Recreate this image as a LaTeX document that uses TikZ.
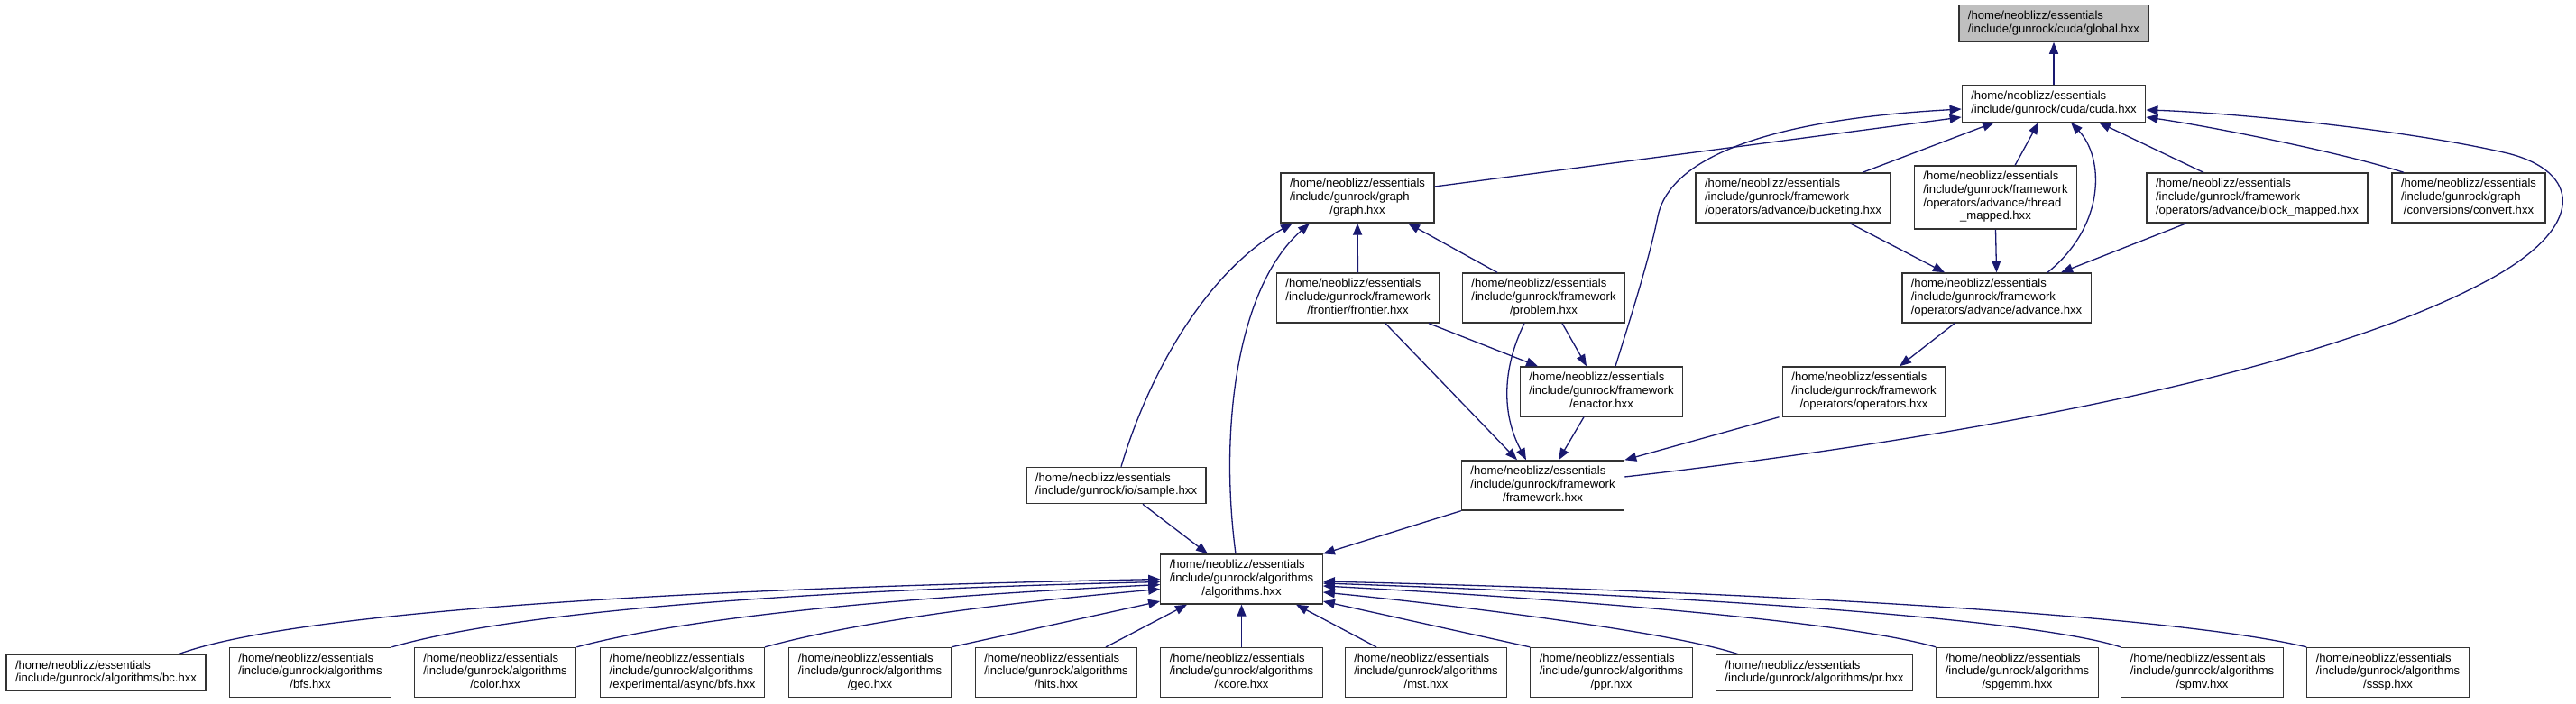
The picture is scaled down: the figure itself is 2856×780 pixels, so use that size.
\documentclass[tikz,border=0pt]{standalone}
\usepackage{fontspec}
\setmainfont{Liberation Sans}
\usetikzlibrary{arrows.meta}
\definecolor{midnight}{HTML}{191970}
\definecolor{curfile}{HTML}{BFBFBF}
\newcommand{\fpath}[2]{%
  % #1=left aligned lines, #2=last line (centred)
  \begin{tabular}{@{}l@{}}#1\\\multicolumn{1}{@{}c@{}}{#2}\end{tabular}%
}
\newcommand{\ess}{/home/neoblizz/essentials}

\begin{document}
\begin{tikzpicture}[x=1pt, y=-1pt,
  file/.style={draw=black!80, fill=white, line width=1.3pt, inner xsep=10pt,
    inner ysep=5.5pt, font=\fontsize{13.1}{14.7}\selectfont},
  inc/.style={-{Triangle[length=13pt, width=10pt]}, draw=midnight, line width=1.3pt},
]
\useasboundingbox (0,0) rectangle (2856,780);

% Top: the file itself
\node[file, fill=curfile] (global) at (2277,26) {\fpath{\ess}{/include/gunrock/cuda/global.hxx}};
\node[file] (cuda) at (2277,115) {\fpath{\ess}{/include/gunrock/cuda/cuda.hxx}};

% Row below cuda.hxx
\node[file] (graph) at (1505,219.5) {\fpath{\ess\\/include/gunrock/graph}{/graph.hxx}};
\node[file] (bucketing) at (1988,219.5) {\fpath{\ess\\/include/gunrock/framework}{/operators/advance/bucketing.hxx}};
\node[file] (thread) at (2212.5,219) {\fpath{\ess\\/include/gunrock/framework\\/operators/advance/thread}{\_mapped.hxx}};
\node[file] (block) at (2502.5,219.5) {\fpath{\ess\\/include/gunrock/framework}{/operators/advance/block\_mapped.hxx}};
\node[file] (convert) at (2737,219.5) {\fpath{\ess\\/include/gunrock/graph}{/conversions/convert.hxx}};

% Framework layer
\node[file] (frontier) at (1505.5,330.5) {\fpath{\ess\\/include/gunrock/framework}{/frontier/frontier.hxx}};
\node[file] (problem) at (1711.5,330.5) {\fpath{\ess\\/include/gunrock/framework}{/problem.hxx}};
\node[file] (advance) at (2213.5,330.5) {\fpath{\ess\\/include/gunrock/framework}{/operators/advance/advance.hxx}};
\node[file] (enactor) at (1775.5,434.5) {\fpath{\ess\\/include/gunrock/framework}{/enactor.hxx}};
\node[file] (operators) at (2066.5,434.5) {\fpath{\ess\\/include/gunrock/framework}{/operators/operators.hxx}};
\node[file] (sample) at (1237.5,538.5) {\fpath{\ess}{/include/gunrock/io/sample.hxx}};
\node[file] (framework) at (1710.5,538.5) {\fpath{\ess\\/include/gunrock/framework}{/framework.hxx}};
\node[file] (algorithms) at (1376.5,642.5) {\fpath{\ess\\/include/gunrock/algorithms}{/algorithms.hxx}};

% Bottom row: algorithms
\node[file] (bc) at (117.5,746.5) {\fpath{\ess}{/include/gunrock/algorithms/bc.hxx}};
\node[file] (pr) at (2011.5,746.5) {\fpath{\ess}{/include/gunrock/algorithms/pr.hxx}};
\foreach \n/\x/\f in {bfs/344/bfs.hxx, color/549/color.hxx, async/756.5/{experimental/async/bfs.hxx},
    geo/964.5/geo.hxx, hits/1171/hits.hxx, kcore/1376.5/kcore.hxx, mst/1581/mst.hxx,
    ppr/1786.5/ppr.hxx, spgemm/2236.5/spgemm.hxx, spmv/2441.5/spmv.hxx, sssp/2647.5/sssp.hxx}
  \node[file] (\n) at (\x,746) {\fpath{\ess\\/include/gunrock/algorithms}{/\f}};

% Edges into cuda.hxx
\draw[inc] (cuda.north) -- (global.south);
\draw[inc] ([yshift=12.5pt]graph.east) -- ([yshift=-15pt]cuda.west);
\draw[inc] ([xshift=15.5pt]enactor.north) .. controls (1815,330) and (1830,280) .. (1838,240)
  .. controls (1848,190) and (1920,135) .. ([yshift=-6pt]cuda.west);
\draw[inc] ([xshift=77pt]bucketing.north) -- ([xshift=-66pt]cuda.south);
\draw[inc] ([xshift=21.5pt]thread.north) -- ([xshift=-17pt]cuda.south);
\draw[inc] ([xshift=56.5pt]advance.north) .. controls (2335,250) and (2333,175) .. ([xshift=19pt]cuda.south);
\draw[inc] ([xshift=-59.5pt]block.north) -- ([xshift=50pt]cuda.south);
\draw[inc] ([xshift=-72pt]convert.north) .. controls (2600,170) and (2450,140) .. ([yshift=-15pt]cuda.east);
\draw[inc] ([yshift=9.5pt]framework.east) .. controls (2100,495) and (2550,425) .. (2760,310)
  .. controls (2870,250) and (2860,190) .. (2780,170)
  .. controls (2650,140) and (2450,124) .. ([yshift=-7pt]cuda.east);

% Edges into graph.hxx
\draw[inc] (frontier.north) -- (graph.south);
\draw[inc] ([xshift=-51.5pt]problem.north) -- ([xshift=56pt]graph.south);
\draw[inc] ([xshift=5.5pt]sample.north) .. controls (1275,410) and (1340,300) .. ([xshift=-72pt]graph.south);
\draw[inc] ([xshift=-6.5pt]algorithms.north) .. controls (1352,480) and (1370,320) .. ([xshift=-53pt]graph.south);

% Edges into advance.hxx and operators.hxx
\draw[inc] ([xshift=63pt]bucketing.south) -- ([xshift=-57.5pt]advance.north);
\draw[inc] (thread.south) -- (advance.north);
\draw[inc] ([xshift=-78.5pt]block.south) -- ([xshift=71.5pt]advance.north);
\draw[inc] ([xshift=-46.5pt]advance.south) -- ([xshift=39.5pt]operators.north);

% Edges into enactor.hxx and framework.hxx
\draw[inc] ([xshift=78.5pt]frontier.south) -- ([xshift=-70.5pt]enactor.north);
\draw[inc] ([xshift=20.5pt]problem.south) -- ([xshift=-16.5pt]enactor.north);
\draw[inc] ([xshift=30.5pt]frontier.south) -- ([xshift=-28.5pt]framework.north);
\draw[inc] ([xshift=-21.5pt]problem.south) .. controls (1665,410) and (1665,460) .. ([xshift=-18.5pt]framework.north);
\draw[inc] ([xshift=-19.5pt]enactor.south) -- ([xshift=17.5pt]framework.north);
\draw[inc] ([xshift=-94pt]operators.south) -- (framework.north east);

% Edges into algorithms.hxx
\draw[inc] ([xshift=29.5pt]sample.south) -- ([xshift=-37.5pt]algorithms.north);
\draw[inc] (framework.south west) -- (algorithms.north east);
\draw[inc] ([xshift=80.5pt]bc.north) .. controls (350,670) and (900,650) .. (algorithms.west);
\draw[inc] (bfs.north east) .. controls (600,670) and (1000,652) .. ([yshift=-3pt]algorithms.west);
\draw[inc] (color.north east) .. controls (780,680) and (1050,660) .. ([yshift=-6pt]algorithms.west);
\draw[inc] (async.north east) .. controls (950,690) and (1100,670) .. ([yshift=-11pt]algorithms.west);
\draw[inc] (geo.north east) -- ([yshift=-24.5pt]algorithms.west);
\draw[inc] ([xshift=55pt]hits.north) -- ([xshift=-60.5pt]algorithms.south);
\draw[inc] (kcore.north) -- (algorithms.south);
\draw[inc] ([xshift=-55pt]mst.north) -- ([xshift=60.5pt]algorithms.south);
\draw[inc] (ppr.north west) -- ([yshift=-24.5pt]algorithms.east);
\draw[inc] ([xshift=-84.5pt]pr.north) .. controls (1850,700) and (1600,670) .. ([yshift=-14.5pt]algorithms.east);
\draw[inc] (spgemm.north west) .. controls (2050,690) and (1750,665) .. ([yshift=-7.5pt]algorithms.east);
\draw[inc] (spmv.north west) .. controls (2250,685) and (1850,660) .. ([yshift=-4.5pt]algorithms.east);
\draw[inc] (sssp.north west) .. controls (2400,680) and (1900,655) .. ([yshift=-2.5pt]algorithms.east);

\end{tikzpicture}
\end{document}
